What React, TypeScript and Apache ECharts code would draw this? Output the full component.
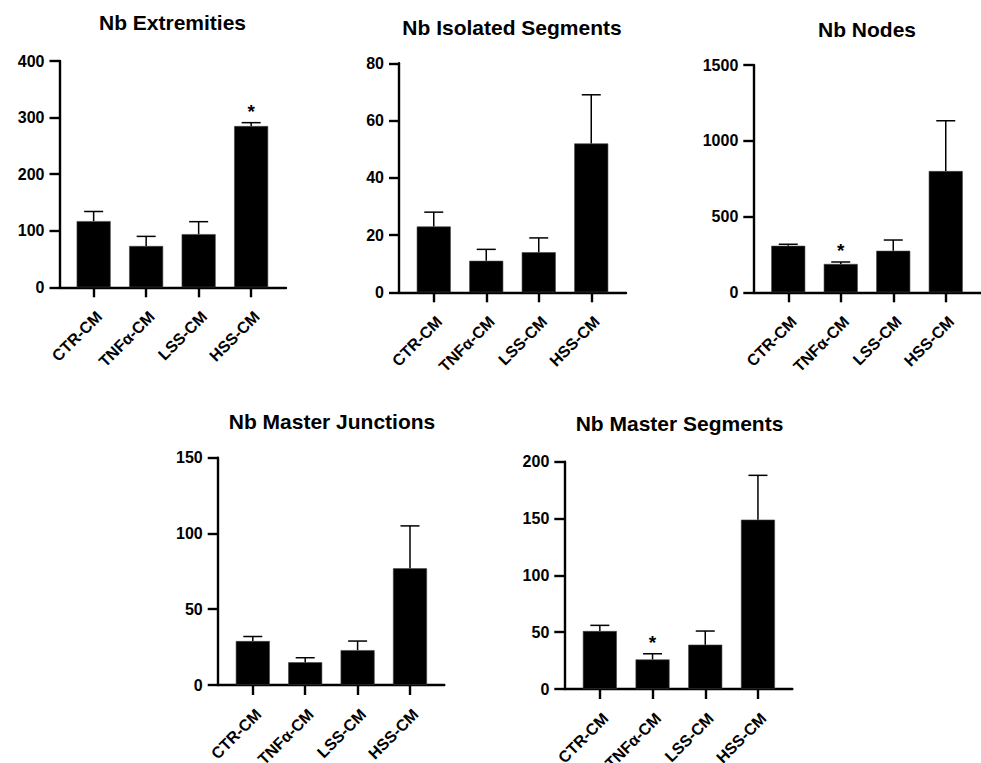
import React, { useEffect, useRef } from "react";
import * as echarts from "echarts";

const categories = ["CTR-CM", "TNFα-CM", "LSS-CM", "HSS-CM"];

const extremitiesMean = [117, 73, 94, 285];
const extremitiesSd = [17, 17, 22, 6];
const extremitiesSig = [false, false, false, true];

const isolatedMean = [23, 11, 14, 52];
const isolatedSd = [5, 4, 5, 17];
const isolatedSig = [false, false, false, false];

const nodesMean = [307, 187, 274, 800];
const nodesSd = [10, 13, 71, 332];
const nodesSig = [false, true, false, false];

const junctionsMean = [29, 15, 23, 77];
const junctionsSd = [3, 3, 6, 28];
const junctionsSig = [false, false, false, false];

const segmentsMean = [51, 26, 39, 149];
const segmentsSd = [5, 5, 12, 39];
const segmentsSig = [false, true, false, false];

const titles = [
  "Nb Extremities",
  "Nb Isolated Segments",
  "Nb Nodes",
  "Nb Master Junctions",
  "Nb Master Segments",
];
const yMax = [400, 80, 1500, 150, 200];
const yStep = [100, 20, 500, 50, 50];

const panelData = [
  { mean: extremitiesMean, sd: extremitiesSd, sig: extremitiesSig },
  { mean: isolatedMean, sd: isolatedSd, sig: isolatedSig },
  { mean: nodesMean, sd: nodesSd, sig: nodesSig },
  { mean: junctionsMean, sd: junctionsSd, sig: junctionsSig },
  { mean: segmentsMean, sd: segmentsSd, sig: segmentsSig },
];

// layout (pixels)
const layouts = [
  { axisX: 59.5, axisEnd: 286, top: 61, bottom: 287.3, bandStart: 67.4, bandWidth: 210, titleX: 172.5, titleTop: 12 },
  { axisX: 399, axisEnd: 626, top: 63.3, bottom: 292.3, bandStart: 407.5, bandWidth: 210, titleX: 512, titleTop: 17 },
  { axisX: 753.3, axisEnd: 981, top: 65, bottom: 292.3, bandStart: 762, bandWidth: 210, titleX: 867, titleTop: 19 },
  { axisX: 217.7, axisEnd: 444.3, top: 457.7, bottom: 685, bandStart: 226.6, bandWidth: 209.6, titleX: 332, titleTop: 411 },
  { axisX: 564.3, axisEnd: 792.3, top: 461.7, bottom: 689, bandStart: 573.5, bandWidth: 210.8, titleX: 679.5, titleTop: 413 },
];

const FONT = "Liberation Sans, Arial, Helvetica, sans-serif";
const W = 981;
const H = 763;

function buildOption() {
  const grid: any[] = [];
  const xAxis: any[] = [];
  const yAxis: any[] = [];
  const series: any[] = [];
  const title: any[] = [];

  layouts.forEach((L, i) => {
    const h = L.bottom - L.top;
    grid.push({ left: L.axisX, top: L.top, width: L.axisEnd - L.axisX, height: h, outerBoundsMode: "none", containLabel: false });
    grid.push({ left: L.bandStart, top: L.top, width: L.bandWidth, height: h, outerBoundsMode: "none", containLabel: false });

    xAxis.push({
      type: "value",
      gridIndex: 2 * i,
      min: 0,
      max: 1,
      axisLine: { show: true, lineStyle: { color: "#000", width: 2.4 } },
      axisTick: { show: false },
      axisLabel: { show: false },
      splitLine: { show: false },
    });
    xAxis.push({
      type: "category",
      gridIndex: 2 * i + 1,
      data: categories,
      axisLine: { show: false },
      axisTick: { show: true, alignWithLabel: true, length: 10, lineStyle: { color: "#000", width: 2.4 } },
      axisLabel: {
        rotate: 45,
        margin: 21,
        interval: 0,
        verticalAlign: "top",
        align: "right",
        color: "#000",
        fontSize: 16,
        fontWeight: "bold",
        fontFamily: FONT,
      },
      splitLine: { show: false },
    });

    yAxis.push({
      type: "value",
      gridIndex: 2 * i,
      min: 0,
      max: yMax[i],
      interval: yStep[i],
      axisLine: { show: true, lineStyle: { color: "#000", width: 2.4 } },
      axisTick: { show: true, length: 10, lineStyle: { color: "#000", width: 2.4 } },
      axisLabel: {
        color: "#000",
        fontSize: 16,
        fontWeight: "bold",
        fontFamily: FONT,
        margin: 15,
        formatter: (v: number) => String(v),
      },
      splitLine: { show: false },
    });
    yAxis.push({
      type: "value",
      gridIndex: 2 * i + 1,
      min: 0,
      max: yMax[i],
      interval: yStep[i],
      show: false,
      splitLine: { show: false },
    });

    const d = panelData[i];
    series.push({
      type: "bar",
      xAxisIndex: 2 * i + 1,
      yAxisIndex: 2 * i + 1,
      data: d.mean,
      barWidth: 34,
      itemStyle: { color: "#000", borderColor: "#444", borderWidth: 0.6 },
      z: 2,
    });
    series.push({
      type: "custom",
      xAxisIndex: 2 * i + 1,
      yAxisIndex: 2 * i + 1,
      data: d.mean.map((m, k) => [k, m, m + d.sd[k], d.sig[k] ? 1 : 0]),
      z: 3,
      renderItem: (params: any, api: any) => {
        const k = api.value(0);
        const p0 = api.coord([k, api.value(1)]);
        const p1 = api.coord([k, api.value(2)]);
        const children: any[] = [
          {
            type: "line",
            shape: { x1: p0[0], y1: p0[1], x2: p1[0], y2: p1[1] },
            style: { stroke: "#000", lineWidth: 1.5 },
          },
          {
            type: "line",
            shape: { x1: p1[0] - 9.5, y1: p1[1], x2: p1[0] + 9.5, y2: p1[1] },
            style: { stroke: "#000", lineWidth: 1.5 },
          },
        ];
        if (api.value(3) === 1) {
          children.push({
            type: "text",
            x: p1[0],
            y: p1[1] - 11,
            style: {
              text: "*",
              fill: "#000",
              font: `bold 19px ${FONT}`,
              textAlign: "center",
              textVerticalAlign: "middle",
            },
          });
        }
        return { type: "group", children };
      },
    });

    title.push({
      text: titles[i],
      left: L.titleX,
      top: L.titleTop,
      textAlign: "center",
      padding: 0,
      textStyle: { color: "#000", fontSize: 21, fontWeight: "bold", fontFamily: FONT },
    });
  });

  return {
    animation: false,
    backgroundColor: "#fff",
    title,
    grid,
    xAxis,
    yAxis,
    series,
  };
}

export default function App() {
  const ref = useRef<HTMLDivElement>(null);
  useEffect(() => {
    if (!ref.current) return;
    const chart = echarts.init(ref.current, undefined, { renderer: "svg", width: W, height: H });
    chart.setOption(buildOption() as any);
    return () => chart.dispose();
  }, []);
  return (
    <div
      ref={ref}
      style={{ position: "absolute", left: 0, top: 0, width: W, height: H, background: "#fff" }}
    />
  );
}
